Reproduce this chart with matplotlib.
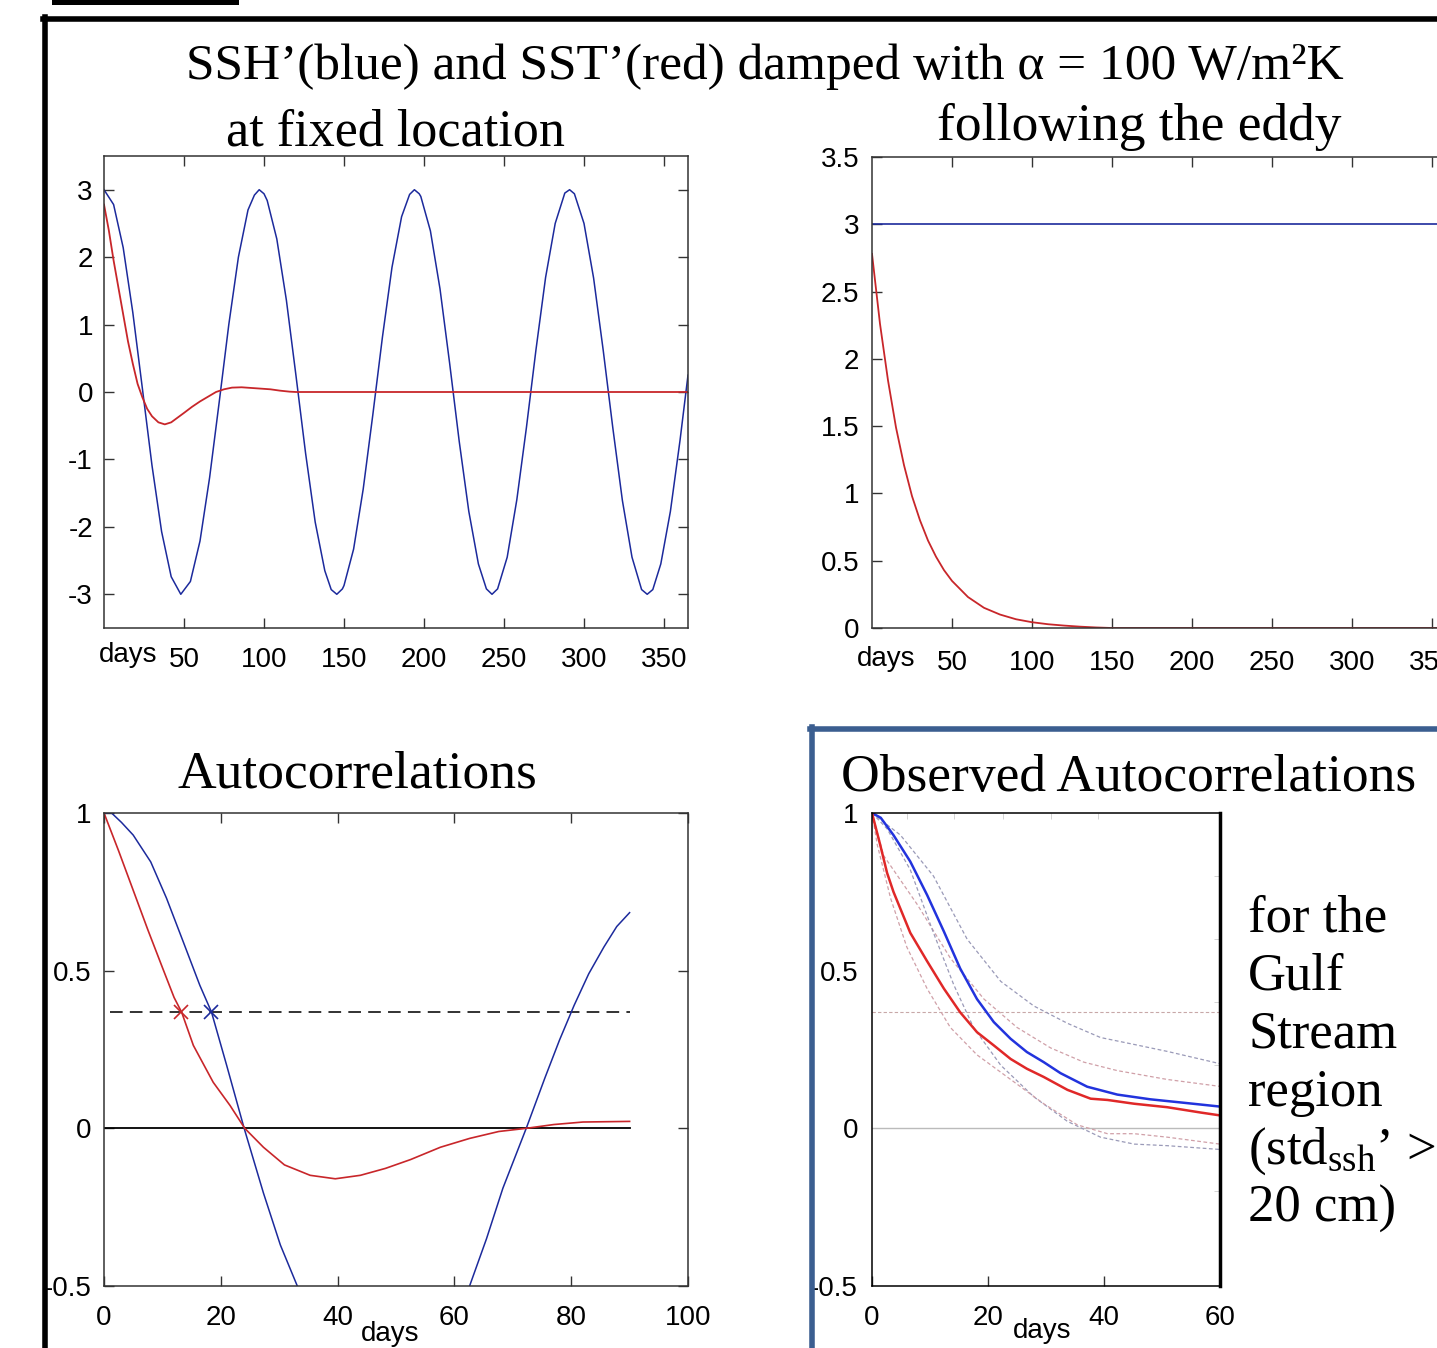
import matplotlib
matplotlib.use("Agg")
import matplotlib.pyplot as plt
from matplotlib.patches import Rectangle
from matplotlib.lines import Line2D
from matplotlib.ticker import FixedLocator

plt.rcParams['font.family'] = ['Liberation Sans', 'DejaVu Sans']
plt.rcParams['mathtext.fontset'] = 'custom'
plt.rcParams['mathtext.rm'] = 'Liberation Serif'
plt.rcParams['mathtext.it'] = 'Liberation Serif:italic'
plt.rcParams['axes.unicode_minus'] = False

# ---------------- data ----------------
# Panel 1: at fixed location
fixed_days = [0, 6, 12, 18, 24, 30, 36, 42, 48, 54, 60, 66, 72, 78, 84, 90, 94, 97,
              100, 102, 108, 114, 120, 126, 132, 138, 142, 145.5, 149, 150, 156, 162,
              168, 174, 180, 186, 191, 194, 197, 198, 204, 210, 216, 222, 228, 234,
              239, 242.5, 246, 252, 258, 264, 270, 276, 282, 288, 291, 294, 300, 306,
              312, 318, 324, 330, 336, 339.5, 343, 348, 354, 360, 365]
fixed_ssh = [3.00, 2.78, 2.14, 1.18, 0.05, -1.09, -2.07, -2.74, -3.00, -2.81, -2.21,
             -1.27, -0.15, 1.00, 2.00, 2.70, 2.92, 3.00, 2.94, 2.84, 2.27, 1.36, 0.24,
             -0.91, -1.93, -2.65, -2.93, -3.00, -2.92, -2.87, -2.33, -1.44, -0.34,
             0.81, 1.85, 2.60, 2.93, 3.00, 2.94, 2.90, 2.39, 1.53, 0.43, -0.73, -1.77,
             -2.55, -2.92, -3.00, -2.92, -2.45, -1.60, -0.53, 0.63, 1.70, 2.50, 2.95,
             3.00, 2.94, 2.50, 1.69, 0.62, -0.53, -1.61, -2.45, -2.93, -3.00, -2.93,
             -2.55, -1.77, -0.72, 0.25]
fixed_sst_days = [0, 3, 6, 9, 12, 15, 18, 21, 24, 27, 30, 34, 38, 42, 46, 50, 55, 60,
                  65, 70, 75, 80, 86, 92, 98, 104, 110, 116, 120, 365]
fixed_sst = [2.78, 2.40, 1.95, 1.55, 1.15, 0.75, 0.42, 0.12, -0.08, -0.25, -0.36,
             -0.45, -0.48, -0.45, -0.38, -0.31, -0.22, -0.14, -0.07, 0.0, 0.04,
             0.065, 0.07, 0.06, 0.05, 0.04, 0.02, 0.005, 0.0, 0.0]

# Panel 2: following the eddy
eddy_ssh_days = [0, 365]
eddy_ssh = [3.0, 3.0]
eddy_sst_days = [0, 5, 10, 15, 20, 25, 30, 35, 40, 45, 50, 60, 70, 80, 90, 100, 110,
                 120, 130, 140, 150, 365]
eddy_sst = [2.78, 2.26, 1.84, 1.49, 1.21, 0.98, 0.80, 0.65, 0.53, 0.43, 0.35, 0.23,
            0.15, 0.10, 0.065, 0.043, 0.028, 0.018, 0.010, 0.004, 0.0, 0.0]

# Panel 3: model autocorrelations
lag_ssh = [0, 1.3, 3, 5, 8, 10.7, 13.6, 16.4, 18.4, 21, 24, 27.3, 30.2, 33.1, 36,
           40, 44, 48, 52, 56, 60, 62.6, 65.5, 68.3, 72.3, 75.5, 78, 80.5, 83,
           85.6, 87.8, 90]
acf_ssh = [1.0, 1.0, 0.97, 0.93, 0.845, 0.73, 0.59, 0.454, 0.369, 0.20, 0.0, -0.205,
           -0.37, -0.50, -0.62, -0.76, -0.86, -0.90, -0.87, -0.78, -0.63, -0.50,
           -0.35, -0.19, 0.0, 0.16, 0.28, 0.39, 0.49, 0.575, 0.64, 0.684]
lag_sst = [0, 2.5, 5, 7.5, 10, 12, 13.3, 15.3, 18.7, 21.6, 24.1, 27.3, 30.9, 35.3,
           39.6, 43.9, 48.2, 52.5, 57.6, 62.6, 67.6, 72.3, 77, 82, 90]
acf_sst = [1.0, 0.88, 0.755, 0.63, 0.51, 0.415, 0.368, 0.263, 0.146, 0.072, 0.0,
           -0.06, -0.116, -0.149, -0.16, -0.149, -0.127, -0.099, -0.06, -0.032,
           -0.01, 0.0, 0.012, 0.02, 0.022]
efold_level = 0.368
efold_sst_lag = 13.2
efold_ssh_lag = 18.4

# Panel 4: observed autocorrelations
obs_lag = [0, 1.5, 3.7, 6.6, 9.5, 12.4, 15.2, 18.1, 21, 23.9, 26.7, 29.6, 32.5,
           37.1, 42.3, 48, 53.8, 60]
obs_ssh = [1.0, 0.985, 0.93, 0.846, 0.74, 0.624, 0.507, 0.41, 0.337, 0.284, 0.242,
           0.21, 0.175, 0.132, 0.107, 0.092, 0.081, 0.069]
obs_sst_lag = [0, 1.4, 2.6, 3.7, 6.6, 9.5, 12.4, 15.2, 18.1, 21, 23.9, 26.7, 29.6,
               33.7, 37.7, 40.6, 45.2, 50.9, 56.7, 60]
obs_sst = [1.0, 0.90, 0.81, 0.75, 0.62, 0.53, 0.443, 0.368, 0.305, 0.263, 0.22,
           0.189, 0.163, 0.122, 0.094, 0.090, 0.078, 0.067, 0.050, 0.041]
ssh_hi_lag = [0, 4.9, 10.6, 16.4, 22.2, 27.9, 33.7, 39.4, 45.2, 50.9, 60]
ssh_hi = [1.0, 0.93, 0.80, 0.60, 0.466, 0.388, 0.333, 0.288, 0.266, 0.244, 0.205]
sst_hi_lag = [0, 2, 7.8, 13.5, 19.3, 25, 30.8, 36.5, 42.3, 50.9, 60]
sst_hi = [1.0, 0.865, 0.71, 0.54, 0.41, 0.32, 0.255, 0.21, 0.183, 0.155, 0.133]
ssh_lo_lag = [0, 2.6, 6.6, 10.6, 14.1, 17.5, 22.2, 27.9, 33.7, 39.4, 45.2, 50.9, 60]
ssh_lo = [1.0, 0.95, 0.82, 0.62, 0.455, 0.32, 0.20, 0.10, 0.022, -0.028, -0.05,
          -0.055, -0.067]
sst_lo_lag = [0, 0.9, 3.2, 6, 9.5, 13.5, 18.1, 23.9, 29.6, 35.4, 40.6, 45.2, 50.9, 60]
sst_lo = [1.0, 0.9, 0.73, 0.575, 0.443, 0.32, 0.233, 0.155, 0.078, 0.011, -0.017,
          -0.017, -0.028, -0.05]

# ---------------- layout ----------------
W, H = 1437, 1348
fig = plt.figure(figsize=(W / 100, H / 100), dpi=100)


def box(x0, y0, x1, y1):
    return [x0 / W, 1 - y1 / H, (x1 - x0) / W, (y1 - y0) / H]


def fx(x):
    return x / W


def fy(y):
    return 1 - y / H


SERIF = ['Liberation Serif', 'DejaVu Serif']
BLUE = '#1c2a9c'
RED = '#c8262a'
TICKFS = 20


def style(ax):
    for s in ax.spines.values():
        s.set_color('#333333')
        s.set_linewidth(1.1)
    ax.tick_params(direction='in', top=True, right=True, length=7, width=1,
                   labelsize=TICKFS, color='#333333')


# frames
fig.add_artist(Line2D([fx(43), fx(1440)], [fy(19), fy(19)], color='black', lw=4))
fig.add_artist(Line2D([fx(45), fx(45)], [fy(17), fy(1350)], color='black', lw=4))
fig.add_artist(Rectangle((fx(52), fy(5)), fx(239) - fx(52), fy(0) - fy(5),
                         color='black', lw=0))
fig.add_artist(Line2D([fx(810), fx(1440)], [fy(729), fy(729)], color='#3b5e90', lw=4))
fig.add_artist(Line2D([fx(812), fx(812)], [fy(727), fy(1350)], color='#3b5e90', lw=4))

# titles
fig.text(fx(765), fy(67), 'SSH’(blue) and SST’(red) damped with α = 100 W/m²K',
         family=SERIF, fontsize=37, ha='center', va='center')
fig.text(fx(395), fy(133), 'at fixed location', family=SERIF, fontsize=37.5,
         ha='center', va='center')
fig.text(fx(1139), fy(127), 'following the eddy', family=SERIF, fontsize=38.5,
         ha='center', va='center')
fig.text(fx(357), fy(775), 'Autocorrelations', family=SERIF, fontsize=38.5,
         ha='center', va='center')
fig.text(fx(1129), fy(778), 'Observed Autocorrelations', family=SERIF, fontsize=38.5,
         ha='center', va='center')
side_lines = ['for the', 'Gulf', 'Stream', 'region',
              r'(std$_{\mathrm{ssh}}$’ >', '20 cm)']
for i, s in enumerate(side_lines):
    fig.text(fx(1248), fy(919 + 58 * i), s, family=SERIF, fontsize=38,
             ha='left', va='center')

# ---- panel 1
ax1 = fig.add_axes(box(104, 156, 688, 628))
ax1.plot(fixed_days, fixed_ssh, color=BLUE, lw=1.1)
ax1.plot(fixed_sst_days, fixed_sst, color=RED, lw=1.3)
ax1.set_xlim(0, 365)
ax1.set_ylim(-3.5, 3.5)
ax1.set_xticks([50, 100, 150, 200, 250, 300, 350])
ax1.set_yticks([-3, -2, -1, 0, 1, 2, 3])
style(ax1)
ax1.tick_params(axis='x', pad=14)
ax1.tick_params(axis='y', pad=8)
fig.text(fx(128), fy(655), 'days', fontsize=TICKFS, ha='center', va='center')

# ---- panel 2
ax2 = fig.add_axes(box(872, 157, 1456, 628))
ax2.plot(eddy_ssh_days, eddy_ssh, color=BLUE, lw=1.2)
ax2.plot(eddy_sst_days, eddy_sst, color=RED, lw=1.3)
ax2.set_xlim(0, 365)
ax2.set_ylim(0, 3.5)
ax2.set_xticks([50, 100, 150, 200, 250, 300, 350])
ax2.set_yticks([0, 0.5, 1, 1.5, 2, 2.5, 3, 3.5])
ax2.set_yticklabels(['0', '0.5', '1', '1.5', '2', '2.5', '3', '3.5'])
style(ax2)
ax2.tick_params(axis='x', pad=16)
ax2.tick_params(axis='y', pad=9)
fig.text(fx(886), fy(659), 'days', fontsize=TICKFS, ha='center', va='center')

# ---- panel 3
ax3 = fig.add_axes(box(104, 813, 688, 1286))
ax3.plot([0, 90], [0, 0], color='black', lw=1.3)
ax3.plot([1, 90], [efold_level, efold_level], color='#222222', lw=1.3,
         dashes=(7, 4))
ax3.plot(lag_ssh, acf_ssh, color=BLUE, lw=1.1)
ax3.plot(lag_sst, acf_sst, color=RED, lw=1.2)
ax3.plot([efold_sst_lag], [efold_level], marker='x', color=RED, ms=10, mew=1.2)
ax3.plot([efold_ssh_lag], [efold_level], marker='x', color=BLUE, ms=10, mew=1.2)
ax3.set_xlim(0, 100)
ax3.set_ylim(-0.5, 1)
ax3.set_xticks([0, 20, 40, 60, 80, 100])
ax3.set_yticks([-0.5, 0, 0.5, 1])
ax3.set_yticklabels(['-0.5', '0', '0.5', '1'])
style(ax3)
ax3.tick_params(axis='x', pad=14)
ax3.tick_params(axis='y', pad=9)
fig.text(fx(390), fy(1334), 'days', fontsize=TICKFS, ha='center', va='center')

# ---- panel 4
ax4 = fig.add_axes(box(872, 813, 1220, 1286))
ax4.axhline(0, color='#bbbbbb', lw=1.0)
ax4.axhline(efold_level, color='#c8a8a8', lw=0.8, dashes=(3, 2))
faint = dict(lw=0.9, dashes=(3, 2))
ax4.plot(ssh_hi_lag, ssh_hi, color='#9a9ab8', **faint)
ax4.plot(sst_hi_lag, sst_hi, color='#d0a0a8', **faint)
ax4.plot(ssh_lo_lag, ssh_lo, color='#9a9ab8', **faint)
ax4.plot(sst_lo_lag, sst_lo, color='#d0a0a8', **faint)
ax4.plot(obs_lag, obs_ssh, color='#2233dd', lw=1.8)
ax4.plot(obs_sst_lag, obs_sst, color='#e02828', lw=1.8)
ax4.set_xlim(0, 60)
ax4.set_ylim(-0.5, 1)
ax4.set_xticks([0, 20, 40, 60])
ax4.set_yticks([-0.5, 0, 0.5, 1])
ax4.set_yticklabels(['-0.5', '0', '0.5', '1'])
for s in ax4.spines.values():
    s.set_color('black')
    s.set_linewidth(1.1)
ax4.spines['right'].set_linewidth(2.5)
ax4.tick_params(direction='in', top=False, right=False, left=False, length=7,
                width=1, labelsize=TICKFS, color='#333333')
ax4.tick_params(axis='x', pad=14)
ax4.tick_params(axis='y', pad=10)
ax4.yaxis.set_minor_locator(FixedLocator([-0.2, 0.2, 0.4, 0.6, 0.8]))
ax4.xaxis.set_minor_locator(FixedLocator([6, 14.2, 22.6, 30.8, 39]))
ax4.tick_params(which='minor', direction='in', left=False, right=True, top=True,
                bottom=False, length=4, color='#cccccc')
fig.text(fx(1042), fy(1331), 'days', fontsize=TICKFS, ha='center', va='center')

fig.savefig('out.png', dpi=100)
